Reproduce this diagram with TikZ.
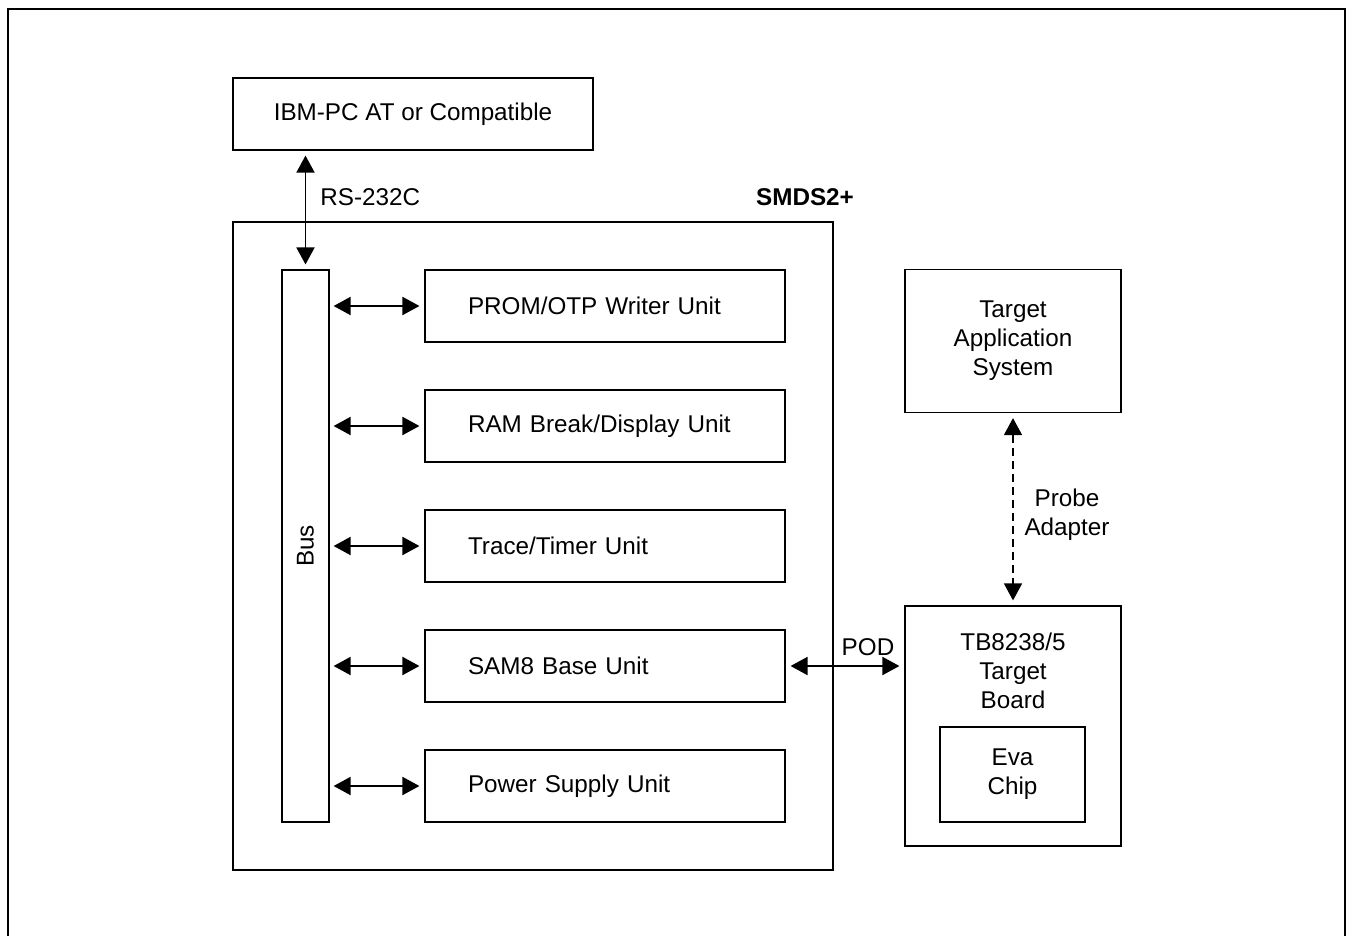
\documentclass[tikz,border=0pt]{standalone}
\usepackage{fontspec}
\setmainfont{Liberation Sans}
\usepackage{tikz}
\usetikzlibrary{arrows.meta}
\tikzset{
  blk/.style={draw,line width=0.7pt,inner sep=0pt,align=center},
  unitbox/.style={blk,minimum width=7.2cm,minimum height=1.44cm,text width=5.48cm,inner xsep=0.86cm,align=left},
  txt/.style={inner sep=0pt,align=center},
  bi/.style={line width=1.1pt,{Triangle[length=0.34cm,width=0.36cm]}-{Triangle[length=0.34cm,width=0.36cm]},shorten <=0.1cm,shorten >=0.1cm},
  probe/.style={bi,line width=0.9pt,dash pattern=on 0.16cm off 0.1cm}
}

\begin{document}
\begin{tikzpicture}[x=0.02cm,y=-0.02cm,font=\fontsize{13.8}{16.5}\selectfont]
\useasboundingbox (0,0) rectangle (1348,936);
\draw[line width=1.1pt] (8,936) -- (8,9) -- (1345,9) -- (1345,936);
% host and emulator
\node[blk,minimum width=7.2cm,minimum height=1.44cm] (pc) at (413,114) {IBM-PC AT or Compatible};
\node[blk,minimum width=12cm,minimum height=12.96cm] (smds) at (533,546) {};
\node[txt,font=\fontsize{13.8}{16.5}\selectfont\bfseries] (smdslbl) at (805,197) {SMDS2+};
\node[blk,minimum width=0.94cm,minimum height=11.04cm] (bus) at (305.5,546) {};
\node[txt,rotate=90] (buslbl) at (bus) {Bus};
\node[unitbox] (prom) at (605,306) {PROM/OTP Writer Unit};
\node[unitbox] (ram) at (605,426) {RAM Break/Display Unit};
\node[unitbox] (trace) at (605,546) {Trace/Timer Unit};
\node[unitbox] (sam) at (605,666) {SAM8 Base Unit};
\node[unitbox] (power) at (605,786) {Power Supply Unit};
% target side
\node[blk,minimum width=4.32cm,minimum height=2.86cm] (tas) at (1013,341) {Target\\Application\\System};
\node[blk,minimum width=4.32cm,minimum height=4.8cm] (tb) at (1013,726) {};
\node[txt] (tblbl) at (1013,671) {TB8238/5\\Target\\Board};
\node[blk,minimum width=2.9cm,minimum height=1.9cm] (eva) at (1012.5,774.5) {Eva\\Chip};
% connections
\draw[bi] (bus.north |- pc.south) -- (bus.north);
\node[txt,anchor=west] (rslbl) at (320,197) {RS-232C};
\foreach \u in {prom,ram,trace,sam,power}
  \draw[bi,shorten <=0.08cm] (bus.east |- \u.west) -- (\u.west);
\draw[bi] (sam.east) -- (sam.east -| tb.west);
\node[txt] (podlbl) at (868,647) {POD};
\draw[probe] (tas.south) -- (tb.north);
\node[txt] (probelbl) at (1067,515) {Probe\\Adapter};
\end{tikzpicture}
\end{document}
